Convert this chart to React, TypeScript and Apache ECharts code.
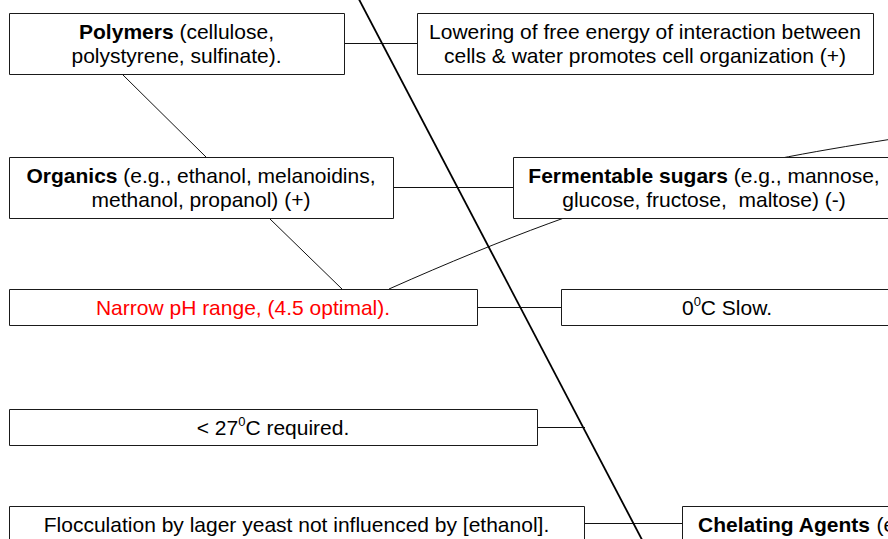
import React, { useEffect, useRef } from 'react';
import * as echarts from 'echarts';

// Box texts (rich-text markup: b = bold, s = superscript)
const boxTexts: string[] = [
  '{b|Polymers} (cellulose,\npolystyrene, sulfinate).',
  'Lowering of free energy of interaction between\ncells & water promotes cell organization (+)',
  '{b|Organics} (e.g., ethanol, melanoidins,\nmethanol, propanol) (+)',
  '{b|Fermentable sugars} (e.g., mannose,\nglucose, fructose,  maltose) (-)',
  'Narrow pH range, (4.5 optimal).',
  '0{s|0}C Slow.',
  '< 27{s|0}C required.',
  'Flocculation by lager yeast not influenced by [ethanol].',
  '{b|Chelating Agents} (e.g.,',
];
const boxTextColors: string[] = ['#000', '#000', '#000', '#000', '#ff0000', '#000', '#000', '#000', '#000'];

// Layout: [x, y, w, h]
const boxRects: number[][] = [
  [9, 13, 335, 61],
  [417, 13, 456, 61],
  [9, 157, 384, 61],
  [513, 157, 382, 61],
  [9, 289, 468, 36],
  [561, 289, 332, 36],
  [9, 409, 528, 36],
  [9, 506, 575, 36],
  [682, 506, 260, 61],
];
// text anchoring: null = centred, number = left x
const textLeft: (number | null)[] = [null, null, null, null, null, null, null, null, 698];

// Connector lines [x1, y1, x2, y2]
const connectors: number[][] = [
  [344, 43.5, 417, 43.5],
  [393, 187.5, 513, 187.5],
  [477, 307.5, 561, 307.5],
  [537, 427.5, 585, 427.5],
  [584, 523.5, 682, 523.5],
  [122, 74, 206, 157],
  [269, 218, 342, 289],
];
const diagonal: number[] = [352, -14, 650, 555];
const curve: number[] = [389, 289, 630, 182, 740, 163, 905, 137];

const FONT = '"Liberation Sans", Arial, Helvetica, sans-serif';

export default function App() {
  const ref = useRef<HTMLDivElement>(null);
  useEffect(() => {
    if (!ref.current) return;
    const chart = echarts.init(ref.current, undefined, { renderer: 'svg' });
    const elements: any[] = [];

    elements.push({
      type: 'bezierCurve',
      z: 1,
      shape: {
        x1: curve[0], y1: curve[1], cpx1: curve[2], cpy1: curve[3],
        cpx2: curve[4], cpy2: curve[5], x2: curve[6], y2: curve[7],
      },
      style: { stroke: '#111', lineWidth: 1, fill: null },
    });
    connectors.forEach((c) => {
      elements.push({
        type: 'line',
        z: 1,
        shape: { x1: c[0], y1: c[1], x2: c[2], y2: c[3] },
        style: { stroke: '#111', lineWidth: 1 },
      });
    });
    elements.push({
      type: 'line',
      z: 1,
      shape: { x1: diagonal[0], y1: diagonal[1], x2: diagonal[2], y2: diagonal[3] },
      style: { stroke: '#000', lineWidth: 1.8 },
    });

    boxRects.forEach((r, i) => {
      elements.push({
        type: 'rect',
        z: 2,
        shape: { x: r[0] + 0.5, y: r[1] + 0.5, width: r[2], height: r[3] },
        style: { fill: '#fff', stroke: '#1a1a1a', lineWidth: 1 },
      });
      const left = textLeft[i];
      const cy = left != null ? r[1] + 18.5 : r[1] + r[3] / 2;
      elements.push({
        type: 'text',
        z: 3,
        x: left != null ? left : r[0] + r[2] / 2,
        y: cy,
        style: {
          text: boxTexts[i],
          fill: boxTextColors[i],
          fontSize: 21,
          fontFamily: FONT,
          lineHeight: 24,
          align: left != null ? 'left' : 'center',
          verticalAlign: 'middle',
          rich: {
            b: { fontWeight: 'bold', fontSize: 21, fontFamily: FONT, fill: boxTextColors[i], lineHeight: 24 },
            s: { fontSize: 13, fontFamily: FONT, fill: boxTextColors[i], verticalAlign: 'top', lineHeight: 15 },
          },
        },
      });
    });

    chart.setOption({
      animation: false,
      backgroundColor: '#fff',
      graphic: { elements },
    });
    return () => chart.dispose();
  }, []);
  return (
    <div
      ref={ref}
      style={{ position: 'fixed', left: 0, top: 0, width: 888, height: 539, background: '#fff' }}
    />
  );
}
